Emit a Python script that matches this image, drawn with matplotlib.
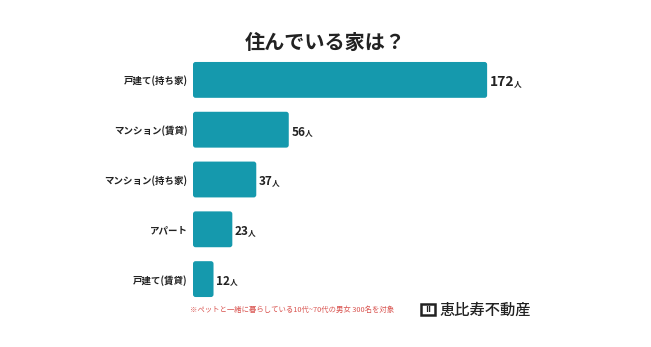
import matplotlib
matplotlib.use("Agg")
import matplotlib.pyplot as plt
from matplotlib.patches import FancyBboxPatch, Rectangle

plt.rcParams['font.family'] = ['Noto Sans CJK JP', 'DejaVu Sans']

# data
categories = ["戸建て(持ち家)", "マンション(賃貸)", "マンション(持ち家)", "アパート", "戸建て(賃貸)"]
values = [172, 56, 37, 23, 12]
title = "住んでいる家は？"
note = "※ペットと一緒に暮らしている10代~70代の男女 300名を対象"
logo = "恵比寿不動産"

bar_color = "#1599ad"

fig = plt.figure(figsize=(6.51, 3.47), dpi=100)
fig.patch.set_facecolor("white")

# axes: left edge at bar start, 1.709 px per unit
ax = fig.add_axes([193 / 651, 1 - 305 / 347, 342 / 651, 250 / 347])
ax.set_xlim(0, 200)
pos = list(range(len(categories)))
ax.set_ylim(4.52, -0.50)

for i, v in enumerate(values):
    p = FancyBboxPatch((0, i - 0.36), v, 0.72,
                       boxstyle="round,pad=0,rounding_size=1.5",
                       mutation_aspect=1.709 / 49.75,
                       facecolor=bar_color, edgecolor="none")
    ax.add_patch(p)
    big = 10 if i == 0 else 8.5
    t = ax.text(v + 1.5, i + 0.05, str(v), va="center", ha="left",
                fontsize=big, fontweight="bold", color="#222222")
    ax.annotate("人", xy=(1, 0.12), xycoords=t, xytext=(-0.5, 0),
                textcoords="offset points", va="bottom", ha="left",
                fontsize=5.5, color="#222222", fontweight="bold")

ax.set_yticks(pos)
ax.set_yticklabels(categories, fontsize=6.8, color="#222222", fontweight="bold")
ax.tick_params(axis="y", length=0, pad=4)
ax.set_xticks([])
for s in ax.spines.values():
    s.set_visible(False)

fig.text(325 / 651, 1 - 42 / 347, title, ha="center", va="center",
         fontsize=14.5, fontweight="bold", color="#222222")
fig.text(190 / 651, 1 - 310 / 347, note, ha="left", va="center",
         fontsize=5.3, color="#d9534f")

# logo
fig.patches.append(Rectangle((421 / 651, 1 - 315 / 347), 14 / 651, 11 / 347,
                             transform=fig.transFigure, facecolor="white",
                             edgecolor="#222222", linewidth=1.8))
fig.text(428 / 651, 1 - 310 / 347, "II", ha="center", va="center",
         fontsize=6.5, fontweight="bold", color="#222222")
fig.text(439 / 651, 1 - 310 / 347, logo, ha="left", va="center",
         fontsize=11, fontweight="medium", color="#222222")

fig.savefig("out.png", dpi=100, facecolor="white")
